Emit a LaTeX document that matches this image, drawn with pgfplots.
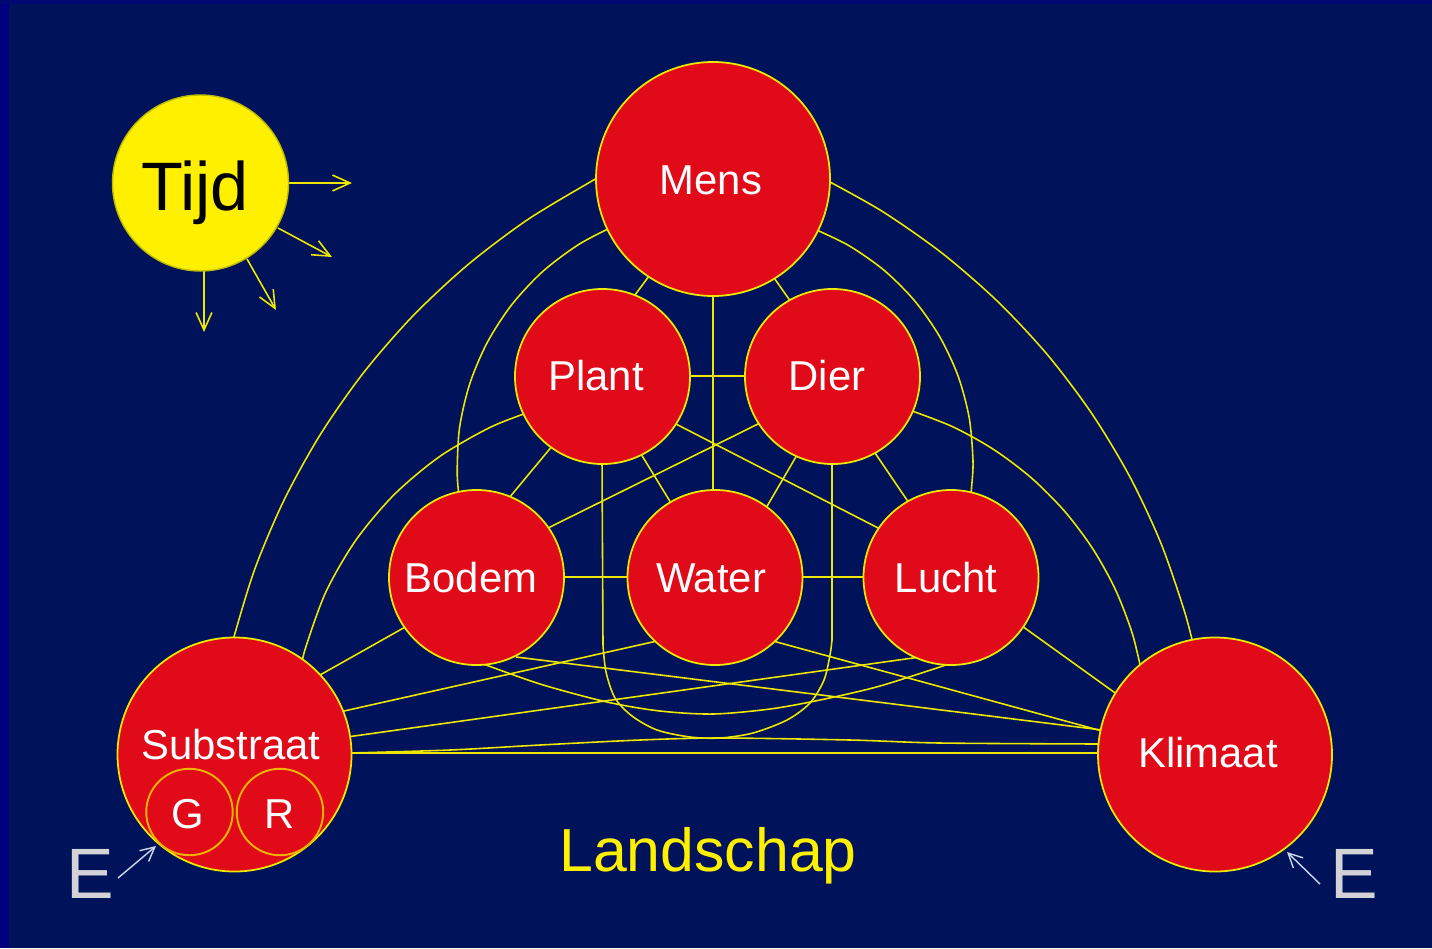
\documentclass[border=0pt]{standalone}
\usepackage{pgfplots}
\pgfplotsset{compat=1.18}
\usepackage{fontspec}
\setmainfont{Liberation Sans}
\usetikzlibrary{arrows.meta}
\definecolor{bg}{RGB}{0,19,90}
\definecolor{bgedge}{RGB}{0,0,128}
\definecolor{nred}{RGB}{224,10,24}
\definecolor{ly}{RGB}{238,232,0}
\definecolor{tijdy}{RGB}{255,240,0}
\definecolor{gr}{RGB}{240,180,0}
\definecolor{egray}{RGB}{210,210,215}
\definecolor{earrow}{RGB}{205,215,240}
\tikzset{ln/.style={color=ly,line width=0.45pt,mark=none},
  lbl/.style={anchor=base,text=white,font=\fontsize{11.9}{12}\selectfont}}
\begin{document}
\begin{tikzpicture}
\begin{axis}[width=14.32cm,height=9.48cm,scale only axis,set layers,
  xmin=0,xmax=1432,ymin=0,ymax=948,y dir=reverse,hide axis,clip=false]
% background
\addplot[fill=bg,draw=none,mark=none] coordinates {(0,0)(1432,0)(1432,948)(0,948)} -- cycle;
\addplot[fill=bgedge,draw=none,mark=none] coordinates {(0,0)(9,0)(9,948)(0,948)} -- cycle;
\addplot[fill=bgedge!60!bg,draw=none,mark=none] coordinates {(0,0)(1432,0)(1432,4)(0,4)} -- cycle;
% outer arcs
\addplot[ln,smooth] coordinates {(603.5,174.9)(592.4,180.7)(528.0,219.4)(468.0,264.6)(413.0,315.8)(363.7,372.5)(320.6,434.1)(284.2,499.8)(254.8,569.0)(233.8,637.3)(229.9,653)};
\addplot[ln,smooth] coordinates {(823.8,178.7)(882.5,211.5)(942.6,253.6)(998.0,301.8)(1048.0,355.4)(1092.1,414.0)(1129.9,476.9)(1161.0,543.4)(1184.9,612.8)(1195.4,654.3)};
% second arcs
\addplot[ln,smooth] coordinates {(614.8,225.6)(578.8,244.4)(542.7,271.5)(511.9,304.5)(487.3,342.4)(469.7,384.0)(459.5,428.0)(457.2,473.0)(459.5,500.1)};
\addplot[ln,smooth] coordinates {(813.2,228.5)(848.5,245.4)(884.1,270.3)(914.7,300.9)(939.6,336.5)(958.0,375.8)(969.2,417.8)(973,461)(971.6,487.0)(970.6,495.7)};
% third arcs
\addplot[ln,smooth] coordinates {(535.3,409.9)(490.9,427.0)(439.4,456.7)(393.9,494.9)(355.7,540.4)(325.9,591.9)(305.6,647.7)(300.3,670.9)};
\addplot[ln,smooth] coordinates {(908.5,409.7)(952.4,426.6)(993.5,449.4)(1031.1,477.7)(1064.3,510.9)(1092.6,548.5)(1115.4,589.6)(1132.3,633.5)(1141.9,673.5)};
% U curve
\addplot[ln] coordinates {(602,460)(603,645)};
\addplot[ln,smooth] coordinates {(603,645)(606,672)(615,698)(632,716)(657,730)(690,737)(720,738)(753,733)(787,720)(810,703)(824,680)(830,655)(832,640)};
\addplot[ln] coordinates {(832,640)(832,460)};
% Bodem - Lucht curve
\addplot[ln,smooth] coordinates {(478,662)(540,684)(607,702)(660,711)(713,714)(770,709)(820,700)(880,686)(955,662)};
% Substraat - Klimaat curve
\addplot[ln,smooth] coordinates {(350,753)(450,750)(540,745)(640,740)(720,738)(850,740)(940,743)(1100,744)};
% straight links
\addplot[ln] coordinates {(713,290)(713,495)};
\addplot[ln] coordinates {(685,376)(750,376)};
\addplot[ln] coordinates {(652,272)(632,299)};
\addplot[ln] coordinates {(772,275)(791,302)};
\addplot[ln] coordinates {(553,445)(509,498)};
\addplot[ln] coordinates {(641,454)(671,503)};
\addplot[ln] coordinates {(797,455)(766,508)};
\addplot[ln] coordinates {(873,450)(909,503)};
\addplot[ln] coordinates {(674,423)(882,530)};
\addplot[ln] coordinates {(760,423)(546,529)};
\addplot[ln] coordinates {(560,577)(630,577)};
\addplot[ln] coordinates {(798,577)(868,577)};
\addplot[ln] coordinates {(320,675)(407,626)};
\addplot[ln] coordinates {(344,711)(657,641)};
\addplot[ln] coordinates {(347,737)(920,657)};
\addplot[ln] coordinates {(350,753)(1100,753)};
\addplot[ln] coordinates {(516,657)(1102,730)};
\addplot[ln] coordinates {(773,641)(1102,731)};
\addplot[ln] coordinates {(1022,626)(1118,695)};
% big circles
\addplot[only marks,mark=*,mark size=33.29pt,mark options={fill=nred,draw=ly,line width=0.5pt}]
  coordinates {(713,179)(234.5,754.5)(1215,754.5)};
% medium circles
\addplot[only marks,mark=*,mark size=24.9pt,mark options={fill=nred,draw=ly,line width=0.5pt}]
  coordinates {(602.5,376.5)(832.5,376.5)(476.5,577.5)(715,577.5)(951,577.5)};
% G, R
\addplot[only marks,mark=*,mark size=12.3pt,mark options={fill=nred,draw=gr,line width=0.55pt}]
  coordinates {(189.5,812)(280,812)};
% Tijd
\addplot[only marks,mark=*,mark size=25.04pt,mark options={fill=tijdy,draw=ly!80!black,line width=0.4pt}]
  coordinates {(200.5,183)};
% Tijd arrows
\addplot[ly,line width=0.45pt,mark=none,-{Straight Barb[length=5pt,width=4.5pt]}] coordinates {(288,183)(352,183)};
\addplot[ly,line width=0.45pt,mark=none,-{Straight Barb[length=5pt,width=4.5pt]}] coordinates {(278,228)(332,257)};
\addplot[ly,line width=0.45pt,mark=none,-{Straight Barb[length=5pt,width=4.5pt]}] coordinates {(247,259)(276,310)};
\addplot[ly,line width=0.45pt,mark=none,-{Straight Barb[length=5pt,width=4.5pt]}] coordinates {(204,271)(204,332)};
% E arrows
\addplot[earrow,line width=0.4pt,mark=none,-{Straight Barb[length=4pt,width=4pt]}] coordinates {(118,878)(156,846)};
\addplot[earrow,line width=0.4pt,mark=none,-{Straight Barb[length=4pt,width=4pt]}] coordinates {(1320,884)(1287,852)};
% labels
\begin{pgfonlayer}{axis foreground}
\node[lbl] at (axis cs:711,194) {Mens};
\node[lbl] at (axis cs:596,390) {Plant};
\node[lbl] at (axis cs:827,390) {Dier};
\node[lbl] at (axis cs:471,592) {Bodem};
\node[lbl] at (axis cs:711,592) {Water};
\node[lbl] at (axis cs:946,592) {Lucht};
\node[lbl] at (axis cs:231,759) {Substraat};
\node[lbl] at (axis cs:1208,767) {Klimaat};
\node[lbl] at (axis cs:188,828) {G};
\node[lbl] at (axis cs:280,828) {R};
\node[anchor=base,text=black,font=\fontsize{19.5}{20}\selectfont] at (axis cs:195,210) {Tijd};
\node[anchor=base,text=tijdy,font=\fontsize{17.3}{18}\selectfont] at (axis cs:708,871) {Landschap};
\node[anchor=base,text=egray,font=\fontsize{20.3}{21}\selectfont] at (axis cs:90,898) {E};
\node[anchor=base,text=egray,font=\fontsize{20.3}{21}\selectfont] at (axis cs:1354,898) {E};
\end{pgfonlayer}
\end{axis}
\end{tikzpicture}
\end{document}
